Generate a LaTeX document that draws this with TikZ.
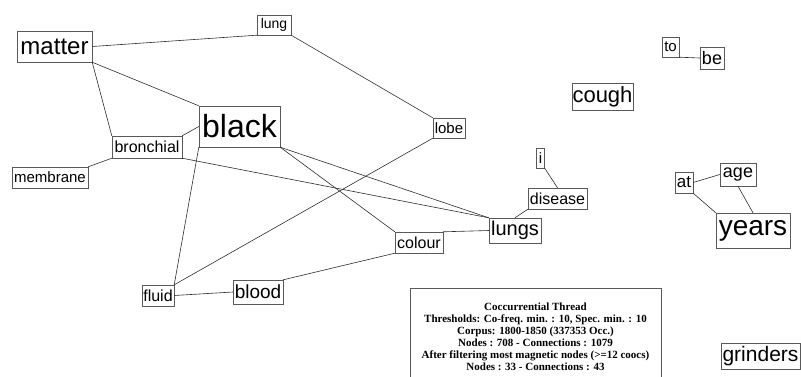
\documentclass[tikz,border=0pt]{standalone}
\usepackage{fontspec}
\setmainfont{Liberation Sans}
\newfontfamily\legendfont{Liberation Serif}
\usepackage{tikz}

\tikzset{
  wordbox/.style = {rectangle, draw = gray!70!black, fill = white, inner sep = 0pt},
  link/.style = {draw = gray!35!black, line width = 0.6pt}
}
\newcommand{\fsz}[1]{\fontsize{#1}{#1}\selectfont}

\begin{document}
\begin{tikzpicture}[x=1pt,y=-1pt]

    \useasboundingbox (0,0) rectangle (801,376);

    \node[wordbox,
          minimum width = 75pt,
          minimum height = 31pt
          ] (matter) at (54.5,46.5) {};
    \node[font=\fsz{24}] at (matter.center) {matter};

    \node[wordbox,
          minimum width = 34pt,
          minimum height = 20pt
          ] (lung) at (274,25) {};
    \node[font=\fsz{14}] at (lung.center) {lung};

    \node[wordbox,
          minimum width = 81pt,
          minimum height = 41pt
          ] (black) at (239.5,126.5) {};
    \node[font=\fsz{32}] at (black.center) {black};

    \node[wordbox,
          minimum width = 70pt,
          minimum height = 22pt
          ] (bronchial) at (147,147) {};
    \node[font=\fsz{16}] at (bronchial.center) {bronchial};

    \node[wordbox,
          minimum width = 76pt,
          minimum height = 21pt
          ] (membrane) at (50,177.5) {};
    \node[font=\fsz{15}] at (membrane.center) {membrane};

    \node[wordbox,
          minimum width = 32pt,
          minimum height = 20pt
          ] (lobe) at (449,128) {};
    \node[font=\fsz{15}] at (lobe.center) {lobe};

    \node[wordbox,
          minimum width = 8pt,
          minimum height = 20pt
          ] (i) at (540.5,158) {};
    \node[font=\fsz{15}] at (i.center) {i};

    \node[wordbox,
          minimum width = 59pt,
          minimum height = 21pt
          ] (disease) at (557.5,198.5) {};
    \node[font=\fsz{16}] at (disease.center) {disease};

    \node[wordbox,
          minimum width = 52pt,
          minimum height = 25pt
          ] (lungs) at (515,230.5) {};
    \node[font=\fsz{20}] at (lungs.center) {lungs};

    \node[wordbox,
          minimum width = 48pt,
          minimum height = 21pt
          ] (colour) at (419,242.5) {};
    \node[font=\fsz{16}] at (colour.center) {colour};

    \node[wordbox,
          minimum width = 32pt,
          minimum height = 21pt
          ] (fluid) at (158,295.5) {};
    \node[font=\fsz{16}] at (fluid.center) {fluid};

    \node[wordbox,
          minimum width = 50pt,
          minimum height = 24pt
          ] (blood) at (258,292) {};
    \node[font=\fsz{19}] at (blood.center) {blood};

    \node[wordbox,
          minimum width = 61pt,
          minimum height = 27pt
          ] (cough) at (602.5,96.5) {};
    \node[font=\fsz{22}] at (cough.center) {cough};

    \node[wordbox,
          minimum width = 17pt,
          minimum height = 20pt
          ] (to) at (670.5,47) {};
    \node[font=\fsz{15}] at (to.center) {to};

    \node[wordbox,
          minimum width = 24pt,
          minimum height = 22pt
          ] (be) at (712,58) {};
    \node[font=\fsz{18}] at (be.center) {be};

    \node[wordbox,
          minimum width = 18pt,
          minimum height = 21pt
          ] (at) at (684,182.5) {};
    \node[font=\fsz{17}] at (at.center) {at};

    \node[wordbox,
          minimum width = 36pt,
          minimum height = 23pt
          ] (age) at (738,174.5) {};
    \node[font=\fsz{18}] at (age.center) {age};

    \node[wordbox,
          minimum width = 74pt,
          minimum height = 35pt
          ] (years) at (753,230.5) {};
    \node[font=\fsz{28}] at (years.center) {years};

    \node[wordbox,
          minimum width = 79pt,
          minimum height = 26pt
          ] (grinders) at (760.5,356) {};
    \node[font=\fsz{21}] at (grinders.center) {grinders};

    % legend
    \node[rectangle,
          draw = gray!70!black,
          anchor = north west,
          minimum width = 251pt,
          minimum height = 100pt
          ] (legend) at (410,288) {};
    \node[align=center, font=\legendfont\bfseries\fontsize{11}{12}\selectfont]
        at (535.5,337) {Coccurrential Thread\\
        Thresholds: Co-freq. min. : 10, Spec. min. : 10\\
        Corpus: 1800-1850 (337353 Occ.)\\
        Nodes : 708 - Connections : 1079\\
        After filtering most magnetic nodes (>=12 coocs)\\
        Nodes : 33 - Connections : 43};

    \path[every edge/.style={link}]
    % left cluster
    (matter.east) edge (lung.south west)
    (matter.south east) edge (black.north west)
    (matter.south east) edge (bronchial.north west)
    (lung.south east) edge (lobe.north west)
    (black.west) edge (bronchial.north east)
    (black.south west) edge (fluid.north east)
    (lobe.south west) edge (fluid.north east)
    (bronchial.south west) edge (membrane.north east)
    (bronchial.south east) edge (lungs.north west)
    (black.south east) edge (lungs.north west)
    (black.south east) edge (colour.north west)
    (colour.north east) edge (lungs.west)
    (colour.south west) edge (blood.north east)
    (fluid.east) edge (blood.west)
    (lungs.north) edge (disease.south west)
    (i.south east) edge (disease.north)
    % right cluster
    (to.south east) edge (be.west)
    (at.east) edge (age.west)
    (at.south east) edge (years.north west)
    (age.south) edge (years.north);

\end{tikzpicture}
\end{document}
